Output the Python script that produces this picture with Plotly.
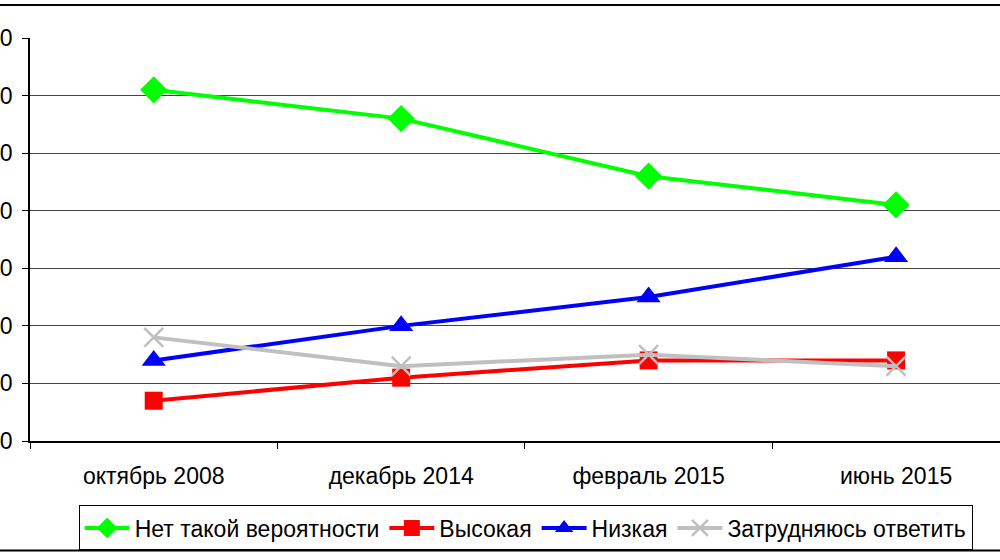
import plotly.graph_objects as go

months = ['октябрь 2008', 'декабрь 2014', 'февраль 2015', 'июнь 2015']
net_takoy = [61, 56, 46, 41]
vysokaya = [7, 11, 14, 14]
nizkaya = [14, 20, 25, 32]
zatrudn = [18, 13, 15, 13]
y_ticks = [0, 10, 20, 30, 40, 50, 60, 70]

series = [
    ('Нет такой вероятности', net_takoy, '#00FF00', 'diamond', 21),
    ('Высокая', vysokaya, '#FF0000', 'square', 18),
    ('Низкая', nizkaya, '#0000FF', 'triangle-up', 21),
    ('Затрудняюсь ответить', zatrudn, '#C0C0C0', 'x-thin', 19),
]

fig = go.Figure()
for name, vals, color, sym, size in series:
    marker = dict(symbol=sym, size=size, color=color)
    if sym == 'x-thin':
        marker['line'] = dict(color=color, width=2.5)
    fig.add_trace(go.Scatter(x=months, y=vals, name=name, mode='lines+markers',
                             line=dict(color=color, width=4), marker=marker))

font = dict(family='Liberation Sans, Arial', size=23, color='black')

fig.update_layout(
    width=1000, height=560,
    margin=dict(l=30, r=0, t=38, b=119, autoexpand=False),
    plot_bgcolor='white', paper_bgcolor='white',
    font=font,
    showlegend=True,
    legend=dict(orientation='h', x=0.511, xanchor='center', y=-0.16, yanchor='top',
                bordercolor='black', borderwidth=1, bgcolor='white',
                itemwidth=45, font=font, traceorder='normal'),
)
fig.update_xaxes(type='category', range=[-0.5, 3.42], tickson='boundaries',
                 ticks='outside', ticklen=6, tickcolor='black',
                 showline=True, linecolor='black', linewidth=1.5,
                 showgrid=False, zeroline=False, fixedrange=True,
                 automargin=False, ticklabelstandoff=14)
fig.update_yaxes(range=[0, 70], tickvals=y_ticks, ticks='outside', ticklen=6,
                 tickcolor='black', showline=True, linecolor='black', linewidth=1.5,
                 showgrid=True, gridcolor='#444444', gridwidth=1, zeroline=False,
                 ticklabelstandoff=5, fixedrange=True, automargin=False)

# outer frame lines of the original chart
fig.add_shape(type='line', xref='paper', yref='paper', x0=-0.04, x1=1.0,
              y0=1.082, y1=1.082, line=dict(color='black', width=2))
fig.add_shape(type='line', xref='paper', yref='paper', x0=-0.04, x1=1.0,
              y0=-0.272, y1=-0.272, line=dict(color='black', width=2))

# drop the default 8px body margin so the chart sits at the window's corner
fig.write_html("out.html", config={'displayModeBar': False},
               post_script="document.body.style.margin='0px';")
